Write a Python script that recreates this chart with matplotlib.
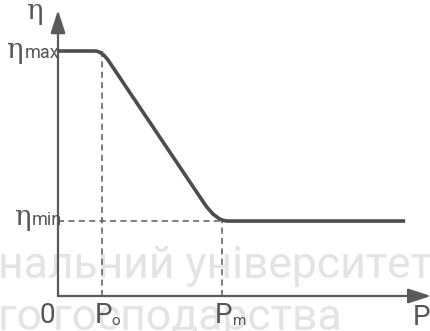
import matplotlib
matplotlib.use('Agg')
import matplotlib.pyplot as plt
from matplotlib.path import Path
from matplotlib.patches import PathPatch

# characteristic values (arbitrary units)
p_zero = 1.0
p_m = 3.73
eta_max = 1.0
eta_min = 0.306
p_axis_end = 8.48
eta_axis_end = 1.167

# efficiency curve: flat, rounded knee, linear drop, rounded knee, flat
curve_p = [0.0, 0.84, 1.0, 1.16, 3.32, 3.59, 3.86, 7.89]
curve_eta = [1.0, 1.0, 1.0, 0.957, 0.379, 0.306, 0.306, 0.306]
curve_codes = [Path.MOVETO, Path.LINETO, Path.CURVE3, Path.CURVE3,
               Path.LINETO, Path.CURVE3, Path.CURVE3, Path.LINETO]

watermark_lines = ['нальний університет', 'го господарства']

line_col = '#4d4d4d'
axis_col = '#5a5a5a'
text_col = '#555555'
wm_col = '#e4e4e4'


def main():
    fig = plt.figure(figsize=(4.31, 3.31), dpi=100)
    ax = fig.add_axes([0, 0, 1, 1])
    ax.set_xlim(-58 / 44, 373 / 44)
    ax.set_ylim(-35 / 245, 296 / 245)
    ax.axis('off')

    # faint watermark behind the drawing
    ax.text(-0.004, 1 - 278 / 331, watermark_lines[0], color=wm_col, fontsize=32,
            family='Roboto', ha='left', va='baseline', zorder=0,
            transform=ax.transAxes)
    ax.text(-0.004, 1 - 330 / 331, watermark_lines[1], color=wm_col, fontsize=32,
            family='Roboto', ha='left', va='baseline', zorder=0,
            transform=ax.transAxes)

    # axes with arrow heads
    arrow = dict(arrowstyle='-|>,head_length=1.4,head_width=0.45', color=axis_col,
                 lw=1.6, mutation_scale=10, shrinkA=0, shrinkB=0)
    ax.annotate('', xy=(p_axis_end, 0), xytext=(0, 0), arrowprops=arrow, zorder=3)
    ax.annotate('', xy=(0, eta_axis_end), xytext=(0, 0), arrowprops=arrow, zorder=3)

    # guide lines
    dash = (0, (4, 2.8))
    ax.plot([p_zero, p_zero], [0, eta_max], color=axis_col, lw=1.1, ls=dash, zorder=2)
    ax.plot([0, p_m], [eta_min, eta_min], color=axis_col, lw=1.1, ls=dash, zorder=2)
    ax.plot([p_m, p_m], [0, eta_min], color=axis_col, lw=1.1, ls=dash, zorder=2)

    # the curve
    path = Path(list(zip(curve_p, curve_eta)), curve_codes)
    ax.add_patch(PathPatch(path, fill=False, ec=line_col, lw=2.6,
                           capstyle='butt', joinstyle='round', zorder=5))

    # labels
    serif = 'DejaVu Serif'
    sans = 'Roboto'
    lab = dict(color=text_col, va='baseline', zorder=6)
    ax.text(-0.36, 1.131, 'η', family=serif, fontsize=20, ha='right', **lab)
    ax.text(-0.80, 0.971, 'η', family=serif, fontsize=20, ha='right', **lab)
    ax.text(-0.75, 0.971, 'max', family=sans, fontsize=13, ha='left', **lab)
    ax.text(-0.63, 0.29, 'η', family=serif, fontsize=20, ha='right', **lab)
    ax.text(-0.60, 0.29, 'min', family=sans, fontsize=13, ha='left', **lab)

    ax.text(-0.07, -0.110, '0', family=sans, fontsize=20, ha='right', **lab)
    ax.text(0.84, -0.110, 'P', family=sans, fontsize=20, ha='left', **lab)
    ax.text(1.22, -0.118, 'o', family=sans, fontsize=11, ha='left', **lab)
    ax.text(3.57, -0.110, 'P', family=sans, fontsize=20, ha='left', **lab)
    ax.text(3.98, -0.118, 'm', family=sans, fontsize=11, ha='left', **lab)
    ax.text(8.07, -0.118, 'P', family=sans, fontsize=20, ha='left', **lab)

    fig.savefig('out.png', dpi=100)


if __name__ == "__main__":
    main()
